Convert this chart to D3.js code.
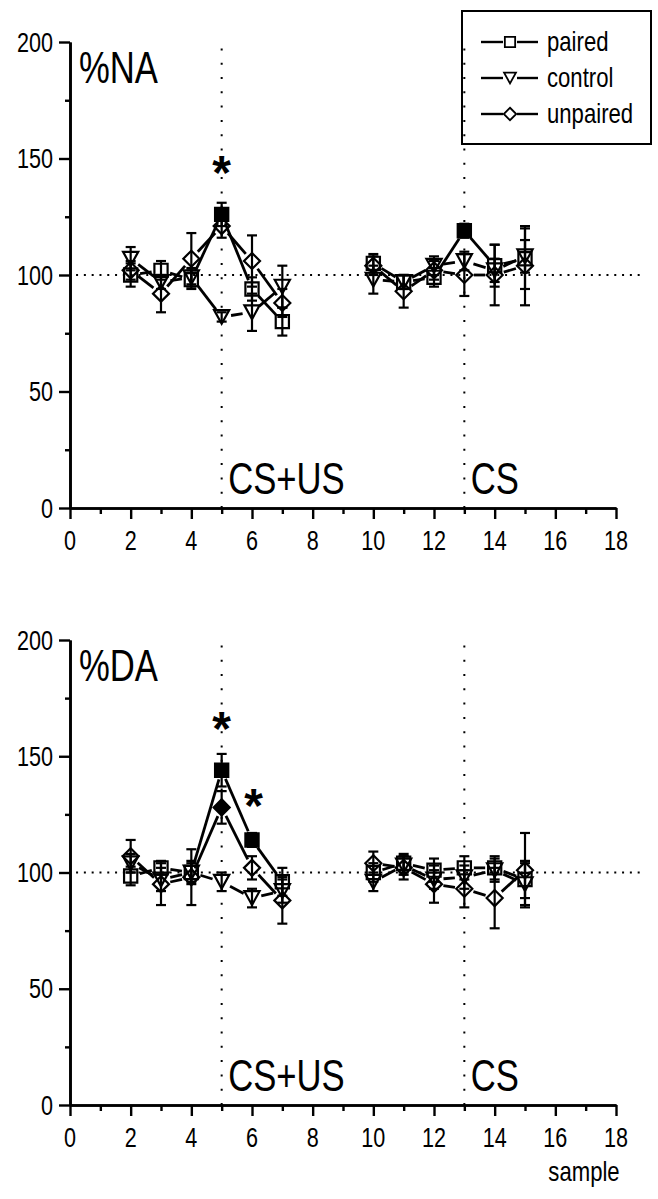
<!DOCTYPE html>
<html>
<head>
<meta charset="utf-8">
<script src="https://cdn.jsdelivr.net/npm/d3@7"></script>
<style>
  html, body { margin: 0; padding: 0; background: #fff; }
  svg { display: block; }
  text { font-family: "Liberation Sans", Arial, sans-serif; fill: #000; }
</style>
</head>
<body>
<svg id="chart" width="658" height="1199"></svg>
<script>
// ---------------- DATA ----------------
const samples = [2, 3, 4, 5, 6, 7, 10, 11, 12, 13, 14, 15];
const segmentBreaks = [[0, 6], [6, 12]];   // index ranges of connected points

const naPaired      = [100, 102, 98, 126, 94, 80, 105, 97, 99, 119, 104, 107];
const naPairedErr   = [5, 4, 4, 5, 5, 6, 4, 3, 4, 3, 9, 13];
const naControl     = [107, 97, 99, 82, 84, 95, 98, 97, 104, 106, 102, 108];
const naControlErr  = [5, 3, 4, 2, 8, 9, 6, 3, 4, 4, 5, 7];
const naUnpaired    = [102, 92, 107, 121, 106, 88, 104, 93, 102, 100, 100, 104];
const naUnpairedErr = [4, 8, 11, 5, 11, 6, 4, 7, 4, 9, 13, 17];
const naPairedFilled   = [5, 13];
const naUnpairedFilled = [];

const daPaired      = [98.5, 102, 100, 144, 114, 96, 100, 104, 101, 102, 102, 97];
const daPairedErr   = [4, 3, 4, 7, 3, 6, 4, 4, 5, 5, 5, 8];
const daControl     = [104, 97, 100, 96, 89, 92, 96, 103, 97, 98, 101, 95];
const daControlErr  = [4, 5, 5, 4, 4, 5, 4, 4, 4, 5, 5, 9];
const daUnpaired    = [107, 95, 98, 128, 102, 88, 104, 102, 95, 93, 89, 101];
const daUnpairedErr = [7, 9, 12, 7, 5, 10, 5, 5, 8, 8, 13, 16];
const daPairedFilled   = [5, 6];
const daUnpairedFilled = [5];

const seriesNames = ["paired", "control", "unpaired"];
const panelLabels = ["%NA", "%DA"];
const eventLabels = ["CS+US", "CS"];
const eventSamples = [5, 13];
const yMajorTicks = [0, 50, 100, 150, 200];
const yMinorTicks = [25, 75, 125, 175];
const xMajorTicks = [0, 2, 4, 6, 8, 10, 12, 14, 16, 18];
const xMinorTicks = [1, 3, 5, 7, 9, 11, 13, 15, 17];
const naStars = [[5, 148.5]];
const daStars = [[5, 166.5], [6.05, 133.3]];
const xLabel = "sample";

// ---------------- LAYOUT ----------------
const svg = d3.select("#chart");
const x = d3.scaleLinear().domain([0, 18]).range([70, 616]);

const panels = [
  { label: panelLabels[0], top: 42, bottom: 508, stars: naStars,
    series: [
      { name: "paired", v: naPaired, e: naPairedErr, filled: naPairedFilled, shape: "square" },
      { name: "control", v: naControl, e: naControlErr, filled: [], shape: "tri" },
      { name: "unpaired", v: naUnpaired, e: naUnpairedErr, filled: naUnpairedFilled, shape: "diamond" }
    ] },
  { label: panelLabels[1], top: 640, bottom: 1105, stars: daStars,
    series: [
      { name: "paired", v: daPaired, e: daPairedErr, filled: daPairedFilled, shape: "square" },
      { name: "control", v: daControl, e: daControlErr, filled: [], shape: "tri" },
      { name: "unpaired", v: daUnpaired, e: daUnpairedErr, filled: daUnpairedFilled, shape: "diamond" }
    ] }
];

function shapePath(shape, k) {
  k = k || 1;
  if (shape === "square") { const s = 6.6 * k; return `M${-s},${-s}H${s}V${s}H${-s}Z`; }
  if (shape === "tri") { const w = 7.6 * k, h = 6.9 * k; return `M${-w},${-h}L${w},${-h}L0,${h}Z`; }
  const d = 8 * k; return `M0,${-d}L${d},0L0,${d}L${-d},0Z`;
}

// condensed text helper (narrow sans look)
function label(sel, txt, tx, ty, size, anchor, sx) {
  return sel.append("text")
    .attr("transform", `translate(${tx},${ty}) scale(${sx},1)`)
    .attr("text-anchor", anchor || "start")
    .attr("font-size", size)
    .text(txt);
}

const FS = 27, SX = 0.8;

panels.forEach((p) => {
  const y = d3.scaleLinear().domain([0, 200]).range([p.bottom, p.top]);
  const g = svg.append("g");

  // reference dotted lines
  g.append("line")
    .attr("x1", x(0.2)).attr("x2", x(18.9))
    .attr("y1", y(100)).attr("y2", y(100))
    .attr("stroke", "#000").attr("stroke-width", 2)
    .attr("stroke-dasharray", "2,5.8");
  eventSamples.forEach(s => {
    g.append("line")
      .attr("x1", x(s)).attr("x2", x(s))
      .attr("y1", y(0)).attr("y2", y(200))
      .attr("stroke", "#000").attr("stroke-width", 2)
      .attr("stroke-dasharray", "2,12.3");
  });

  // axes (ticks via d3 axes, labels placed at scale positions)
  const yMaj = g.append("g").attr("transform", `translate(${x(0)},0)`)
    .call(d3.axisLeft(y).tickValues(yMajorTicks).tickSize(11).tickSizeOuter(0).tickFormat(""));
  const yMin = g.append("g").attr("transform", `translate(${x(0)},0)`)
    .call(d3.axisLeft(y).tickValues(yMinorTicks).tickSize(5).tickSizeOuter(0).tickFormat(""));
  const xMaj = g.append("g").attr("transform", `translate(0,${y(0)})`)
    .call(d3.axisBottom(x).tickValues(xMajorTicks).tickSize(11).tickSizeOuter(0).tickFormat(""));
  const xMin = g.append("g").attr("transform", `translate(0,${y(0)})`)
    .call(d3.axisBottom(x).tickValues(xMinorTicks).tickSize(6).tickSizeOuter(0).tickFormat(""));
  [yMaj, yMin, xMaj, xMin].forEach(a => {
    a.selectAll("path.domain").attr("stroke", "#000").attr("stroke-width", 2.6);
    a.selectAll(".tick line").attr("stroke", "#000").attr("stroke-width", 2.4);
  });
  yMajorTicks.forEach(t => label(g, String(t), x(0) - 17, y(t) + 9.5, FS, "end", SX));
  xMajorTicks.forEach(t => label(g, String(t), x(t), y(0) + 42, FS, "middle", SX));

  // panel label
  label(g, p.label, 79, p.top + 41, 45, "start", 0.77);

  // event labels
  eventSamples.forEach((s, i) => {
    label(g, eventLabels[i], x(s) + 6.5, y(0) - 14, 45, "start", 0.77);
  });

  const GAP = 9.5;
  p.series.forEach(sr => {
    // connecting lines with gaps at markers
    segmentBreaks.forEach(([a, b]) => {
      for (let i = a; i < b - 1; i++) {
        const x1 = x(samples[i]), y1 = y(sr.v[i]);
        const x2 = x(samples[i + 1]), y2 = y(sr.v[i + 1]);
        const len = Math.hypot(x2 - x1, y2 - y1);
        if (len <= 2 * GAP) continue;
        const ux = (x2 - x1) / len, uy = (y2 - y1) / len;
        g.append("line")
          .attr("x1", x1 + ux * GAP).attr("y1", y1 + uy * GAP)
          .attr("x2", x2 - ux * GAP).attr("y2", y2 - uy * GAP)
          .attr("stroke", "#000").attr("stroke-width", 2.8);
      }
    });
    // error bars
    samples.forEach((s, i) => {
      const cx = x(s), lo = y(sr.v[i] - sr.e[i]), hi = y(sr.v[i] + sr.e[i]);
      g.append("line").attr("x1", cx).attr("x2", cx).attr("y1", lo).attr("y2", hi)
        .attr("stroke", "#000").attr("stroke-width", 2.2);
      [lo, hi].forEach(yy => {
        g.append("line").attr("x1", cx - 5).attr("x2", cx + 5).attr("y1", yy).attr("y2", yy)
          .attr("stroke", "#000").attr("stroke-width", 2.2);
      });
    });
    // markers
    samples.forEach((s, i) => {
      const filled = sr.filled.includes(s);
      g.append("path").attr("d", shapePath(sr.shape))
        .attr("transform", `translate(${x(s)},${y(sr.v[i])})`)
        .attr("fill", filled ? "#000" : "none")
        .attr("stroke", "#000").attr("stroke-width", 2.2);
    });
  });

  // significance stars
  p.stars.forEach(([sx, sv]) => {
    g.append("text").attr("x", x(sx)).attr("y", y(sv) + 27)
      .attr("text-anchor", "middle")
      .attr("font-weight", "bold")
      .attr("font-size", 48).text("*");
  });
});

// x label
label(svg, xLabel, 584, 1181, FS, "middle", 0.82);

// legend
const lg = svg.append("g");
lg.append("rect").attr("x", 462).attr("y", 11).attr("width", 189).attr("height", 133)
  .attr("fill", "none").attr("stroke", "#000").attr("stroke-width", 2);
const legendShapes = ["square", "tri", "diamond"];
const legendRows = [42, 78, 114];
seriesNames.forEach((n, i) => {
  const yy = legendRows[i];
  lg.append("line").attr("x1", 481).attr("x2", 503).attr("y1", yy).attr("y2", yy)
    .attr("stroke", "#000").attr("stroke-width", 2.4);
  lg.append("line").attr("x1", 517).attr("x2", 538).attr("y1", yy).attr("y2", yy)
    .attr("stroke", "#000").attr("stroke-width", 2.4);
  lg.append("path").attr("d", shapePath(legendShapes[i], 0.78))
    .attr("transform", `translate(510,${yy})`)
    .attr("fill", "none").attr("stroke", "#000").attr("stroke-width", 1.8);
  label(lg, n, 547, yy + 9, 27, "start", 0.82);
});
</script>
</body>
</html>
